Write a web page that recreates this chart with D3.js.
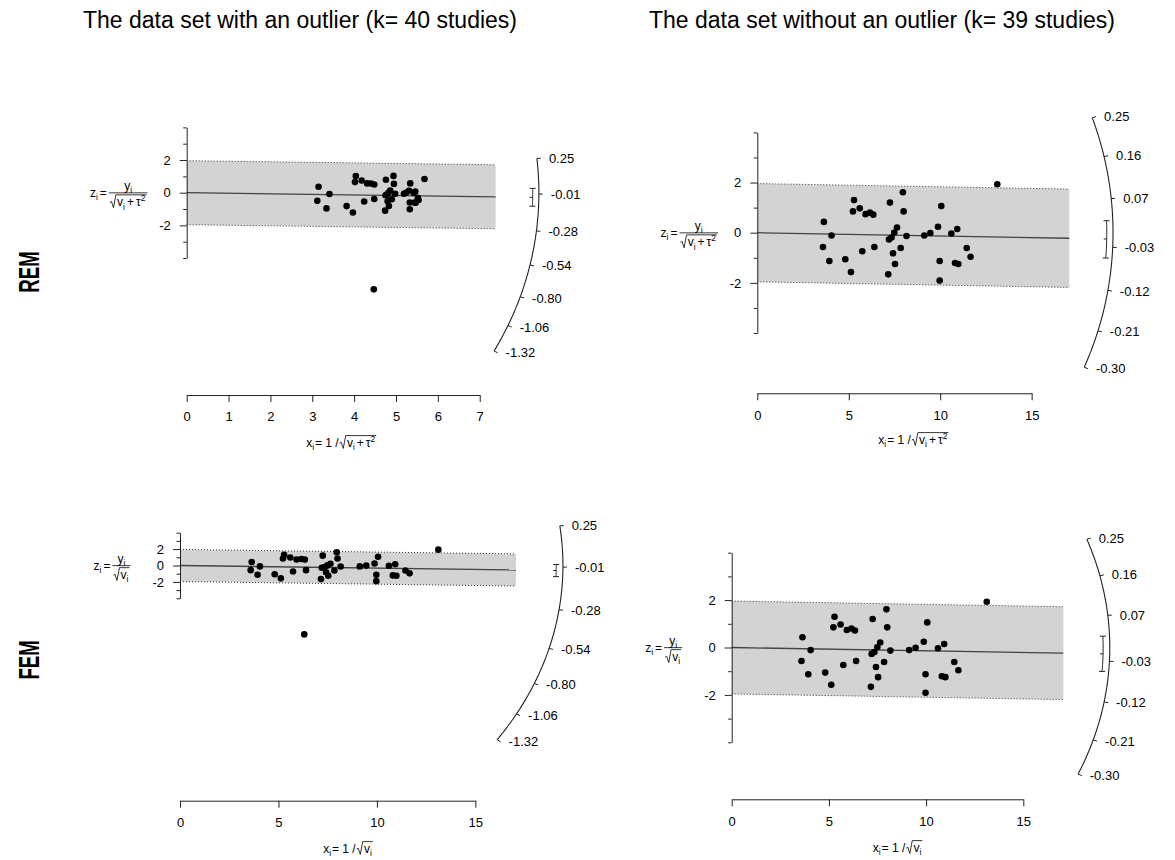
<!DOCTYPE html>
<html>
<head>
<meta charset="utf-8">
<script src="https://cdn.jsdelivr.net/npm/d3@7"></script>
<style>
  body { margin: 0; background: #fff; }
  svg text { font-family: "Liberation Sans", Arial, sans-serif; fill: #000; }
</style>
</head>
<body>
<div id="chart"></div>
<script>
// ---------------- data ----------------
const colTitles = ["The data set with an outlier (k= 40 studies)", "The data set without an outlier (k= 39 studies)"];
const rowTitles = ["REM", "FEM"];

// REM, with the outlier: [x_i, z_i]
const remWithOutlier = [
  [3.15, 0.36], [3.12, -0.50], [3.41, -0.08], [3.34, -0.96], [3.82, -0.82], [3.97, -1.21],
  [4.04, 1.02], [4.02, 0.65], [4.18, 0.75], [4.24, -0.54], [4.31, 0.57], [4.40, 0.56],
  [4.48, 0.50], [4.48, -0.39], [4.76, 0.79], [4.74, -1.10], [4.75, -0.16], [4.78, -0.12],
  [4.80, -0.53], [4.82, 0.00], [4.86, 0.13], [4.83, -0.81], [4.94, 1.03], [4.95, 0.54],
  [4.90, -0.40], [4.98, -0.06], [5.19, -0.06], [5.24, 0.00], [5.31, 0.12], [5.33, -0.60],
  [5.33, -1.01], [5.34, 0.57], [5.42, -0.01], [5.46, 0.07], [5.44, -0.60], [5.47, -0.62],
  [5.52, -0.31], [5.54, -0.45], [5.68, 0.84], [4.47, -5.92]
];

// the 39 studies without the outlier (REM and FEM panels look identical)
const withoutOutlier = [
  [3.64, 0.43], [3.59, -0.57], [4.06, -0.11], [3.94, -1.13], [4.81, -1.06], [5.12, -1.57],
  [5.29, 1.30], [5.23, 0.85], [5.60, 0.97], [5.74, -0.74], [5.92, 0.74], [6.16, 0.80],
  [6.34, 0.72], [6.40, -0.57], [7.25, 1.20], [7.16, -1.66], [7.20, -0.27], [7.34, -0.19],
  [7.42, -0.82], [7.49, 0.01], [7.64, 0.21], [7.53, -1.25], [7.96, 1.61], [8.00, 0.85],
  [7.84, -0.61], [8.16, -0.13], [9.13, -0.11], [9.46, -0.01], [9.88, 0.24], [9.97, -1.13],
  [9.97, -1.91], [10.06, 1.06], [10.61, -0.03], [10.93, 0.15], [10.81, -1.21], [10.99, -1.25],
  [11.45, -0.61], [11.66, -0.96], [13.12, 1.93]
];
const femOutlier = [6.31, -8.40];
const femWithOutlier = withoutOutlier.concat([femOutlier]);

// pooled estimate with CI: [estimate, lower, upper]
const estRemWith = [-0.034, -0.100, 0.032];
const estRemWithout = [-0.013, -0.053, 0.025];
const estFemWith = [-0.032, -0.071, 0.006];
const estFemWithout = [-0.014, -0.053, 0.025];

// radial scale (arc) labels
const arcTicksWith = [0.25, -0.01, -0.28, -0.54, -0.80, -1.06, -1.32];
const arcTicksWithout = [0.25, 0.16, 0.07, -0.03, -0.12, -0.21, -0.30];

const xTicksRemWith = [0, 1, 2, 3, 4, 5, 6, 7];
const xTicks15 = [0, 5, 10, 15];
const yTicksMajor = [-2, 0, 2];
const yTicksMinor = [-4, -3, -1, 1, 3, 4];

// ---------------- layout ----------------
const W = 1175, H = 860;
const svg = d3.select("#chart").append("svg").attr("width", W).attr("height", H);

const panels = [
  { pts: remWithOutlier, est: estRemWith, arcTicks: arcTicksWith, xTicks: xTicksRemWith, xmax: 7.38, model: "REM",
    left: 186.7, kx: 41.86, zero: 192.7, ky: 16.33, axisY: 395, labelY: 447, arcA: 2.36 },
  { pts: withoutOutlier, est: estRemWithout, arcTicks: arcTicksWithout, xTicks: xTicks15, xmax: 17.06, model: "REM",
    left: 757.3, kx: 18.29, zero: 232.7, ky: 25.08, axisY: 393.3, labelY: 444, arcA: 0.70 },
  { pts: femWithOutlier, est: estFemWith, arcTicks: arcTicksWith, xTicks: xTicks15, xmax: 17.06, model: "FEM",
    left: 180, kx: 19.69, zero: 565.5, ky: 8.2, axisY: 800.7, labelY: 853, arcA: 1.95 },
  { pts: withoutOutlier, est: estFemWithout, arcTicks: arcTicksWithout, xTicks: xTicks15, xmax: 17.06, model: "FEM",
    left: 731.7, kx: 19.44, zero: 647.5, ky: 23.7, axisY: 799.3, labelY: 852, arcA: 0.685 }
];

// lay out a small formula left to right; returns the end x
function typeset(g, items, fs, x) {
  items.forEach(it => {
    if (it.root) {
      const start = x;
      x = typeset(g, it.root, fs, start + fs * 0.6) + 1;
      const top = -fs * 0.95;
      g.append("path")
        .attr("d", `M${start},${-fs * 0.32} L${start + fs * 0.13},${-fs * 0.4} L${start + fs * 0.3},${fs * 0.12} L${start + fs * 0.5},${top} L${x},${top}`)
        .attr("fill", "none").attr("stroke", "#000").attr("stroke-width", 0.8);
    } else {
      const size = (it.sub || it.sup) ? fs * 0.7 : fs;
      const dy = it.sub ? fs * 0.28 : it.sup ? -fs * 0.42 : 0;
      const t = g.append("text").attr("x", x).attr("y", dy)
        .style("font-size", size + "px").text(it.s);
      x += t.node().getComputedTextLength() + (it.gap || 0);
    }
  });
  return x;
}

function radicand(model) {
  return model === "REM"
    ? [{ s: "v" }, { s: "i", sub: 1, gap: 2 }, { s: "+", gap: 2 }, { s: "τ" }, { s: "2", sup: 1 }]
    : [{ s: "v" }, { s: "i", sub: 1 }];
}

class RadialPlot {

  constructor(_svg, _opts) {
    this.svg = _svg;
    this.o = _opts;
    this.init();
  }

  init() {
    let rp = this, o = rp.o;
    rp.g = rp.svg.append("g");
    rp.x = d3.scaleLinear().domain([0, o.xmax]).range([o.left, o.left + o.kx * o.xmax]);
    rp.y = d3.scaleLinear().domain([-4, 4]).range([o.zero + 4 * o.ky, o.zero - 4 * o.ky]);
    rp.fs = 12;

    rp.drawBand();
    rp.drawAxes();
    rp.drawPoints();
    rp.drawArc();
    rp.drawCI();
    rp.drawLabels();
  }

  // point on the radial scale for effect b at radius L (in x units)
  arcPt(b, L) {
    let a = this.o.arcA;
    let x = L / Math.sqrt(1 + (b / a) * (b / a));
    return [x, b * x];
  }

  drawBand() {
    let rp = this, o = rp.o, b = o.est[0], xm = o.xmax;
    let line = d3.line().x(d => rp.x(d[0])).y(d => rp.y(d[1]));

    rp.g.append("path")
      .attr("d", line([[0, 1.96], [xm, 1.96 + b * xm], [xm, -1.96 + b * xm], [0, -1.96]]) + "Z")
      .attr("fill", "#d3d3d3");

    [1.96, -1.96].forEach(c => {
      rp.g.append("path")
        .attr("d", line([[0, c], [xm, c + b * xm]]))
        .attr("fill", "none").attr("stroke", "#333")
        .attr("stroke-width", 1).attr("stroke-dasharray", "1,2");
    });

    rp.g.append("path")
      .attr("d", line([[0, 0], [xm, b * xm]]))
      .attr("fill", "none").attr("stroke", "#444").attr("stroke-width", 1.3);
  }

  drawAxes() {
    let rp = this, o = rp.o;
    let last = o.xTicks[o.xTicks.length - 1];
    let xAxisScale = rp.x.copy().domain([0, last]).range([rp.x(0), rp.x(last)]);

    let xAxis = rp.g.append("g")
      .attr("transform", "translate(0," + o.axisY + ")")
      .call(d3.axisBottom(xAxisScale).tickValues(o.xTicks).tickSize(7).tickSizeOuter(0)
        .tickPadding(10).tickFormat(d => String(d)));

    let yAxis = rp.g.append("g")
      .attr("transform", "translate(" + rp.x(0) + ",0)")
      .call(d3.axisLeft(rp.y).tickValues(yTicksMajor).tickSize(7).tickSizeOuter(0)
        .tickPadding(9).tickFormat(d => String(d)));

    let yMinor = rp.g.append("g")
      .attr("transform", "translate(" + rp.x(0) + ",0)")
      .call(d3.axisLeft(rp.y).tickValues(yTicksMinor).tickSize(3.5).tickFormat(""));
    yMinor.select(".domain").remove();

    [xAxis, yAxis, yMinor].forEach(ax => {
      ax.selectAll("path, line").attr("stroke", "#222");
      ax.selectAll("text").style("font-size", "13px");
    });
  }

  drawPoints() {
    let rp = this;
    rp.g.append("g").selectAll("circle")
      .data(rp.o.pts)
      .enter().append("circle")
      .attr("cx", d => rp.x(d[0]))
      .attr("cy", d => rp.y(d[1]))
      .attr("r", 3.3)
      .attr("fill", "#000");
  }

  drawArc() {
    let rp = this, o = rp.o, L = 1.14 * o.xmax;
    let bs = d3.extent(o.arcTicks);
    let samples = d3.range(0, 81).map(i => bs[0] + (bs[1] - bs[0]) * i / 80);
    let line = d3.line().x(d => rp.x(d[0])).y(d => rp.y(d[1]));

    rp.g.append("path")
      .attr("d", line(samples.map(b => rp.arcPt(b, L))))
      .attr("fill", "none").attr("stroke", "#222").attr("stroke-width", 1.1);

    let ox = rp.x(0), oy = rp.y(0);
    o.arcTicks.forEach(b => {
      let p = rp.arcPt(b, L);
      let px = rp.x(p[0]), py = rp.y(p[1]);
      let dx = px - ox, dy = py - oy, len = Math.hypot(dx, dy);
      let ux = dx / len, uy = dy / len;
      rp.g.append("line")
        .attr("x1", px).attr("y1", py)
        .attr("x2", px + ux * 4).attr("y2", py + uy * 4)
        .attr("stroke", "#222").attr("stroke-width", 1);
      rp.g.append("text")
        .attr("x", px + ux * 4 + 8).attr("y", py + uy * 4)
        .attr("dy", "0.35em")
        .style("font-size", "13px")
        .text(b.toFixed(2));
    });
  }

  drawCI() {
    let rp = this, o = rp.o, L = 1.12 * o.xmax;
    let [est, lb, ub] = o.est;
    let samples = d3.range(0, 21).map(i => lb + (ub - lb) * i / 20);
    let line = d3.line().x(d => rp.x(d[0])).y(d => rp.y(d[1]));

    rp.g.append("path")
      .attr("d", line(samples.map(b => rp.arcPt(b, L))))
      .attr("fill", "none").attr("stroke", "#222").attr("stroke-width", 1);

    [[lb, -3, 3], [ub, -3, 3], [est, -3, 0]].forEach(t => {
      let p = rp.arcPt(t[0], L);
      rp.g.append("line")
        .attr("x1", rp.x(p[0]) + t[1]).attr("x2", rp.x(p[0]) + t[2])
        .attr("y1", rp.y(p[1])).attr("y2", rp.y(p[1]))
        .attr("stroke", "#222").attr("stroke-width", 1);
    });
  }

  drawLabels() {
    let rp = this, o = rp.o, fs = rp.fs;

    // x label: x_i = 1 / sqrt(...)
    let gx = rp.g.append("g");
    let wx = typeset(gx, [{ s: "x" }, { s: "i", sub: 1, gap: 1 }, { s: "= 1 /", gap: 1 }, { root: radicand(o.model) }], fs, 0);
    gx.attr("transform", "translate(" + (rp.x(o.xmax / 2) - wx / 2) + "," + o.labelY + ")");

    // y label: z_i = y_i / sqrt(...)
    let gy = rp.g.append("g");
    let w = typeset(gy, [{ s: "z" }, { s: "i", sub: 1, gap: 2 }, { s: "=", gap: 2 }], fs, 0);
    let num = gy.append("g"), den = gy.append("g");
    let wn = typeset(num, [{ s: "y" }, { s: "i", sub: 1 }], fs, 0);
    let wd = typeset(den, [{ root: radicand(o.model) }], fs, 0);
    let bw = Math.max(wn, wd) + 2, bar = -fs * 0.32;
    num.attr("transform", "translate(" + (w + (bw - wn) / 2) + "," + (bar - 3) + ")");
    den.attr("transform", "translate(" + (w + (bw - wd) / 2) + "," + (bar + 2 + fs * 0.95) + ")");
    gy.append("line")
      .attr("x1", w).attr("x2", w + bw).attr("y1", bar).attr("y2", bar)
      .attr("stroke", "#000").attr("stroke-width", 0.8);
    gy.attr("transform", "translate(" + (rp.x(0) - 68 - (w + bw) / 2) + "," + (o.zero + 4) + ")");
  }
}

panels.forEach(p => new RadialPlot(svg, p));

// column titles
svg.selectAll(".colTitle")
  .data(colTitles)
  .enter().append("text")
  .attr("class", "colTitle")
  .attr("x", (d, i) => [300, 882][i])
  .attr("y", 28)
  .attr("text-anchor", "middle")
  .style("font-size", "23px")
  .text(d => d);

// row titles
svg.selectAll(".rowTitle")
  .data(rowTitles)
  .enter().append("text")
  .attr("class", "rowTitle")
  .attr("transform", (d, i) => "translate(39," + [272, 660][i] + ") rotate(-90) scale(0.62,1)")
  .attr("text-anchor", "middle")
  .style("font-size", "30px")
  .style("font-weight", "bold")
  .text(d => d);
</script>
</body>
</html>
